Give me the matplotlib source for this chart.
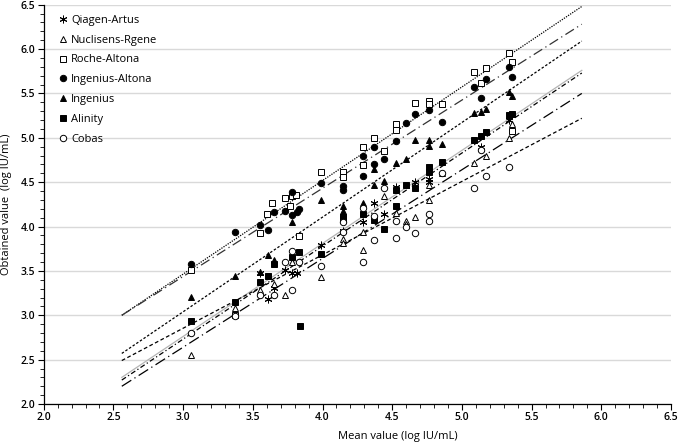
import matplotlib
matplotlib.use("Agg")
import matplotlib.pyplot as plt
from matplotlib.ticker import MultipleLocator

plt.rcParams['font.family'] = ['Open Sans', 'DejaVu Sans']

# Qiagen-Artus
qia_x = [3.55, 3.61, 3.65, 3.73, 3.78, 3.82, 3.99, 4.145, 4.29, 4.37, 4.44, 4.525, 4.66, 4.765, 4.765, 5.14, 5.34]
qia_y = [3.48, 3.18, 3.31, 3.51, 3.48, 3.48, 3.79, 3.95, 4.05, 4.26, 4.14, 4.45, 4.50, 4.54, 4.50, 4.90, 5.20]
# Nuclisens-Rgene
nuc_x = [3.06, 3.37, 3.55, 3.65, 3.73, 3.78, 3.99, 4.145, 4.145, 4.29, 4.29, 4.44, 4.525, 4.60, 4.60, 4.66,
         4.765, 4.765, 4.86, 5.09, 5.17, 5.34, 5.36]
nuc_y = [2.55, 3.08, 3.28, 3.35, 3.23, 3.60, 3.43, 3.86, 3.81, 3.94, 3.74, 4.34, 4.15, 4.06, 4.03, 4.11,
         4.47, 4.30, 4.60, 4.72, 4.79, 5.00, 5.16]
# Roche-Altona
roc_x = [3.06, 3.37, 3.55, 3.605, 3.64, 3.73, 3.77, 3.78, 3.81, 3.83, 3.99, 4.145, 4.145, 4.29, 4.29, 4.37,
         4.44, 4.525, 4.525, 4.66, 4.765, 4.765, 4.86, 5.09, 5.14, 5.17, 5.34, 5.36, 5.36]
roc_y = [3.51, 3.00, 3.93, 4.14, 4.26, 4.32, 4.23, 4.34, 4.35, 3.89, 4.61, 4.61, 4.56, 4.90, 4.69, 5.00,
         4.85, 5.16, 5.09, 5.39, 5.42, 5.38, 5.38, 5.74, 5.62, 5.79, 5.96, 5.85, 5.08]
# Ingenius-Altona
iga_x = [3.06, 3.37, 3.55, 3.61, 3.65, 3.73, 3.78, 3.78, 3.82, 3.83, 3.99, 4.145, 4.145, 4.29, 4.29, 4.37,
         4.37, 4.44, 4.525, 4.60, 4.66, 4.765, 4.86, 5.09, 5.14, 5.17, 5.34, 5.36]
iga_y = [3.58, 3.94, 4.02, 3.96, 4.16, 4.18, 4.13, 4.39, 4.16, 4.20, 4.49, 4.46, 4.41, 4.80, 4.57, 4.90,
         4.70, 4.76, 4.96, 5.17, 5.27, 5.31, 5.18, 5.57, 5.45, 5.66, 5.80, 5.68]
# Ingenius
ing_x = [3.06, 3.37, 3.55, 3.61, 3.65, 3.78, 3.99, 4.145, 4.145, 4.29, 4.37, 4.37, 4.44, 4.525, 4.60, 4.66,
         4.765, 4.765, 4.86, 5.09, 5.14, 5.17, 5.34, 5.36]
ing_y = [3.21, 3.44, 3.49, 3.68, 3.62, 4.05, 4.30, 4.23, 4.17, 4.27, 4.65, 4.47, 4.51, 4.72, 4.76, 4.97,
         4.97, 4.91, 4.93, 5.28, 5.29, 5.33, 5.52, 5.47]
# Alinity
ali_x = [3.06, 3.37, 3.55, 3.61, 3.65, 3.78, 3.83, 3.84, 3.99, 4.145, 4.145, 4.29, 4.37, 4.44, 4.525, 4.525,
         4.60, 4.66, 4.765, 4.765, 4.86, 5.09, 5.14, 5.17, 5.34, 5.36]
ali_y = [2.93, 3.15, 3.37, 3.44, 3.58, 3.66, 3.71, 2.88, 3.69, 4.11, 4.08, 4.14, 4.07, 3.97, 4.41, 4.23,
         4.47, 4.43, 4.67, 4.62, 4.73, 4.97, 5.02, 5.06, 5.26, 5.27]
# Cobas
cob_x = [3.06, 3.37, 3.55, 3.65, 3.73, 3.78, 3.78, 3.83, 3.99, 4.145, 4.145, 4.29, 4.29, 4.37, 4.37, 4.44,
         4.525, 4.525, 4.60, 4.66, 4.765, 4.765, 4.86, 5.09, 5.14, 5.17, 5.34]
cob_y = [2.80, 2.99, 3.23, 3.23, 3.60, 3.72, 3.28, 3.60, 3.55, 4.05, 3.94, 4.21, 3.60, 4.12, 3.85, 4.43,
         4.06, 3.87, 4.00, 3.93, 4.14, 4.06, 4.60, 4.43, 4.86, 4.57, 4.67]

# trendline ends
trend_x = [2.56, 5.86]
trend_y = {
    'Qiagen-Artus': [2.27, 5.73],
    'Nuclisens-Rgene': [2.20, 5.50],
    'Roche-Altona': [3.00, 6.48],
    'Ingenius-Altona': [3.00, 6.28],
    'Ingenius': [2.57, 6.09],
    'Alinity': [2.30, 5.76],
    'Cobas': [2.49, 5.22],
}

series = [
    ('Qiagen-Artus', qia_x, qia_y, (6, 2, 0), 'k', (0, (4, 2, 1, 2)), 'k'),
    ('Nuclisens-Rgene', nuc_x, nuc_y, '^', 'white', (0, (9, 3, 1, 3)), 'k'),
    ('Roche-Altona', roc_x, roc_y, 's', 'white', (0, (1, 1)), 'k'),
    ('Ingenius-Altona', iga_x, iga_y, 'o', 'k', (0, (8, 3, 1, 3)), '#333333'),
    ('Ingenius', ing_x, ing_y, '^', 'k', (0, (2, 1.5)), 'k'),
    ('Alinity', ali_x, ali_y, 's', 'k', '-', '#b5b5b5'),
    ('Cobas', cob_x, cob_y, 'o', 'white', (0, (3, 2)), 'k'),
]

fig = plt.figure(figsize=(6.78, 4.43), dpi=100)
ax = fig.add_axes([0.0645, 0.088, 0.9252, 0.9014])

for name, xs, ys, mk, fc, ls, lc in series:
    ax.plot(trend_x, trend_y[name], linestyle=ls, color=lc, linewidth=0.9, zorder=2)
for name, xs, ys, mk, fc, ls, lc in series:
    ax.plot(xs, ys, linestyle='none', marker=mk, markersize=4.6 if mk != (6, 2, 0) else 5.5,
            markerfacecolor=fc, markeredgecolor='k', markeredgewidth=0.7, label=name, zorder=3)

ax.set_xlim(2.0, 6.5)
ax.set_ylim(2.0, 6.5)
ax.xaxis.set_major_locator(MultipleLocator(0.5))
ax.xaxis.set_minor_locator(MultipleLocator(0.1))
ax.yaxis.set_major_locator(MultipleLocator(0.5))
ax.yaxis.set_minor_locator(MultipleLocator(0.1))
ax.xaxis.set_major_formatter(plt.FormatStrFormatter('%.1f'))
ax.yaxis.set_major_formatter(plt.FormatStrFormatter('%.1f'))
ax.grid(axis='y', which='major', color='#d9d9d9', linewidth=1.0, zorder=0)
ax.set_axisbelow(True)
for s in ['top', 'right']:
    ax.spines[s].set_visible(False)
for s in ['left', 'bottom']:
    ax.spines[s].set_color('k')
    ax.spines[s].set_linewidth(0.9)
ax.tick_params(which='major', direction='out', length=4, width=0.8, labelsize=7.5, pad=2)
ax.tick_params(which='minor', direction='out', length=3, width=0.6)
for lab in ax.get_xticklabels() + ax.get_yticklabels():
    lab.set_fontweight('semibold')

ax.set_xlabel('Mean value (log IU/mL)', fontsize=8)
ax.xaxis.set_label_coords(0.565, -0.068)
ax.set_ylabel('Obtained value  (log IU/mL)', fontsize=8)
ax.yaxis.set_label_coords(-0.05, 0.5)

ax.legend(loc='upper left', bbox_to_anchor=(0.025, 0.975), frameon=False, fontsize=8,
          handlelength=0.7, handletextpad=0.35, labelspacing=0.8, borderaxespad=0, borderpad=0)

fig.savefig('out.png', dpi=100)
